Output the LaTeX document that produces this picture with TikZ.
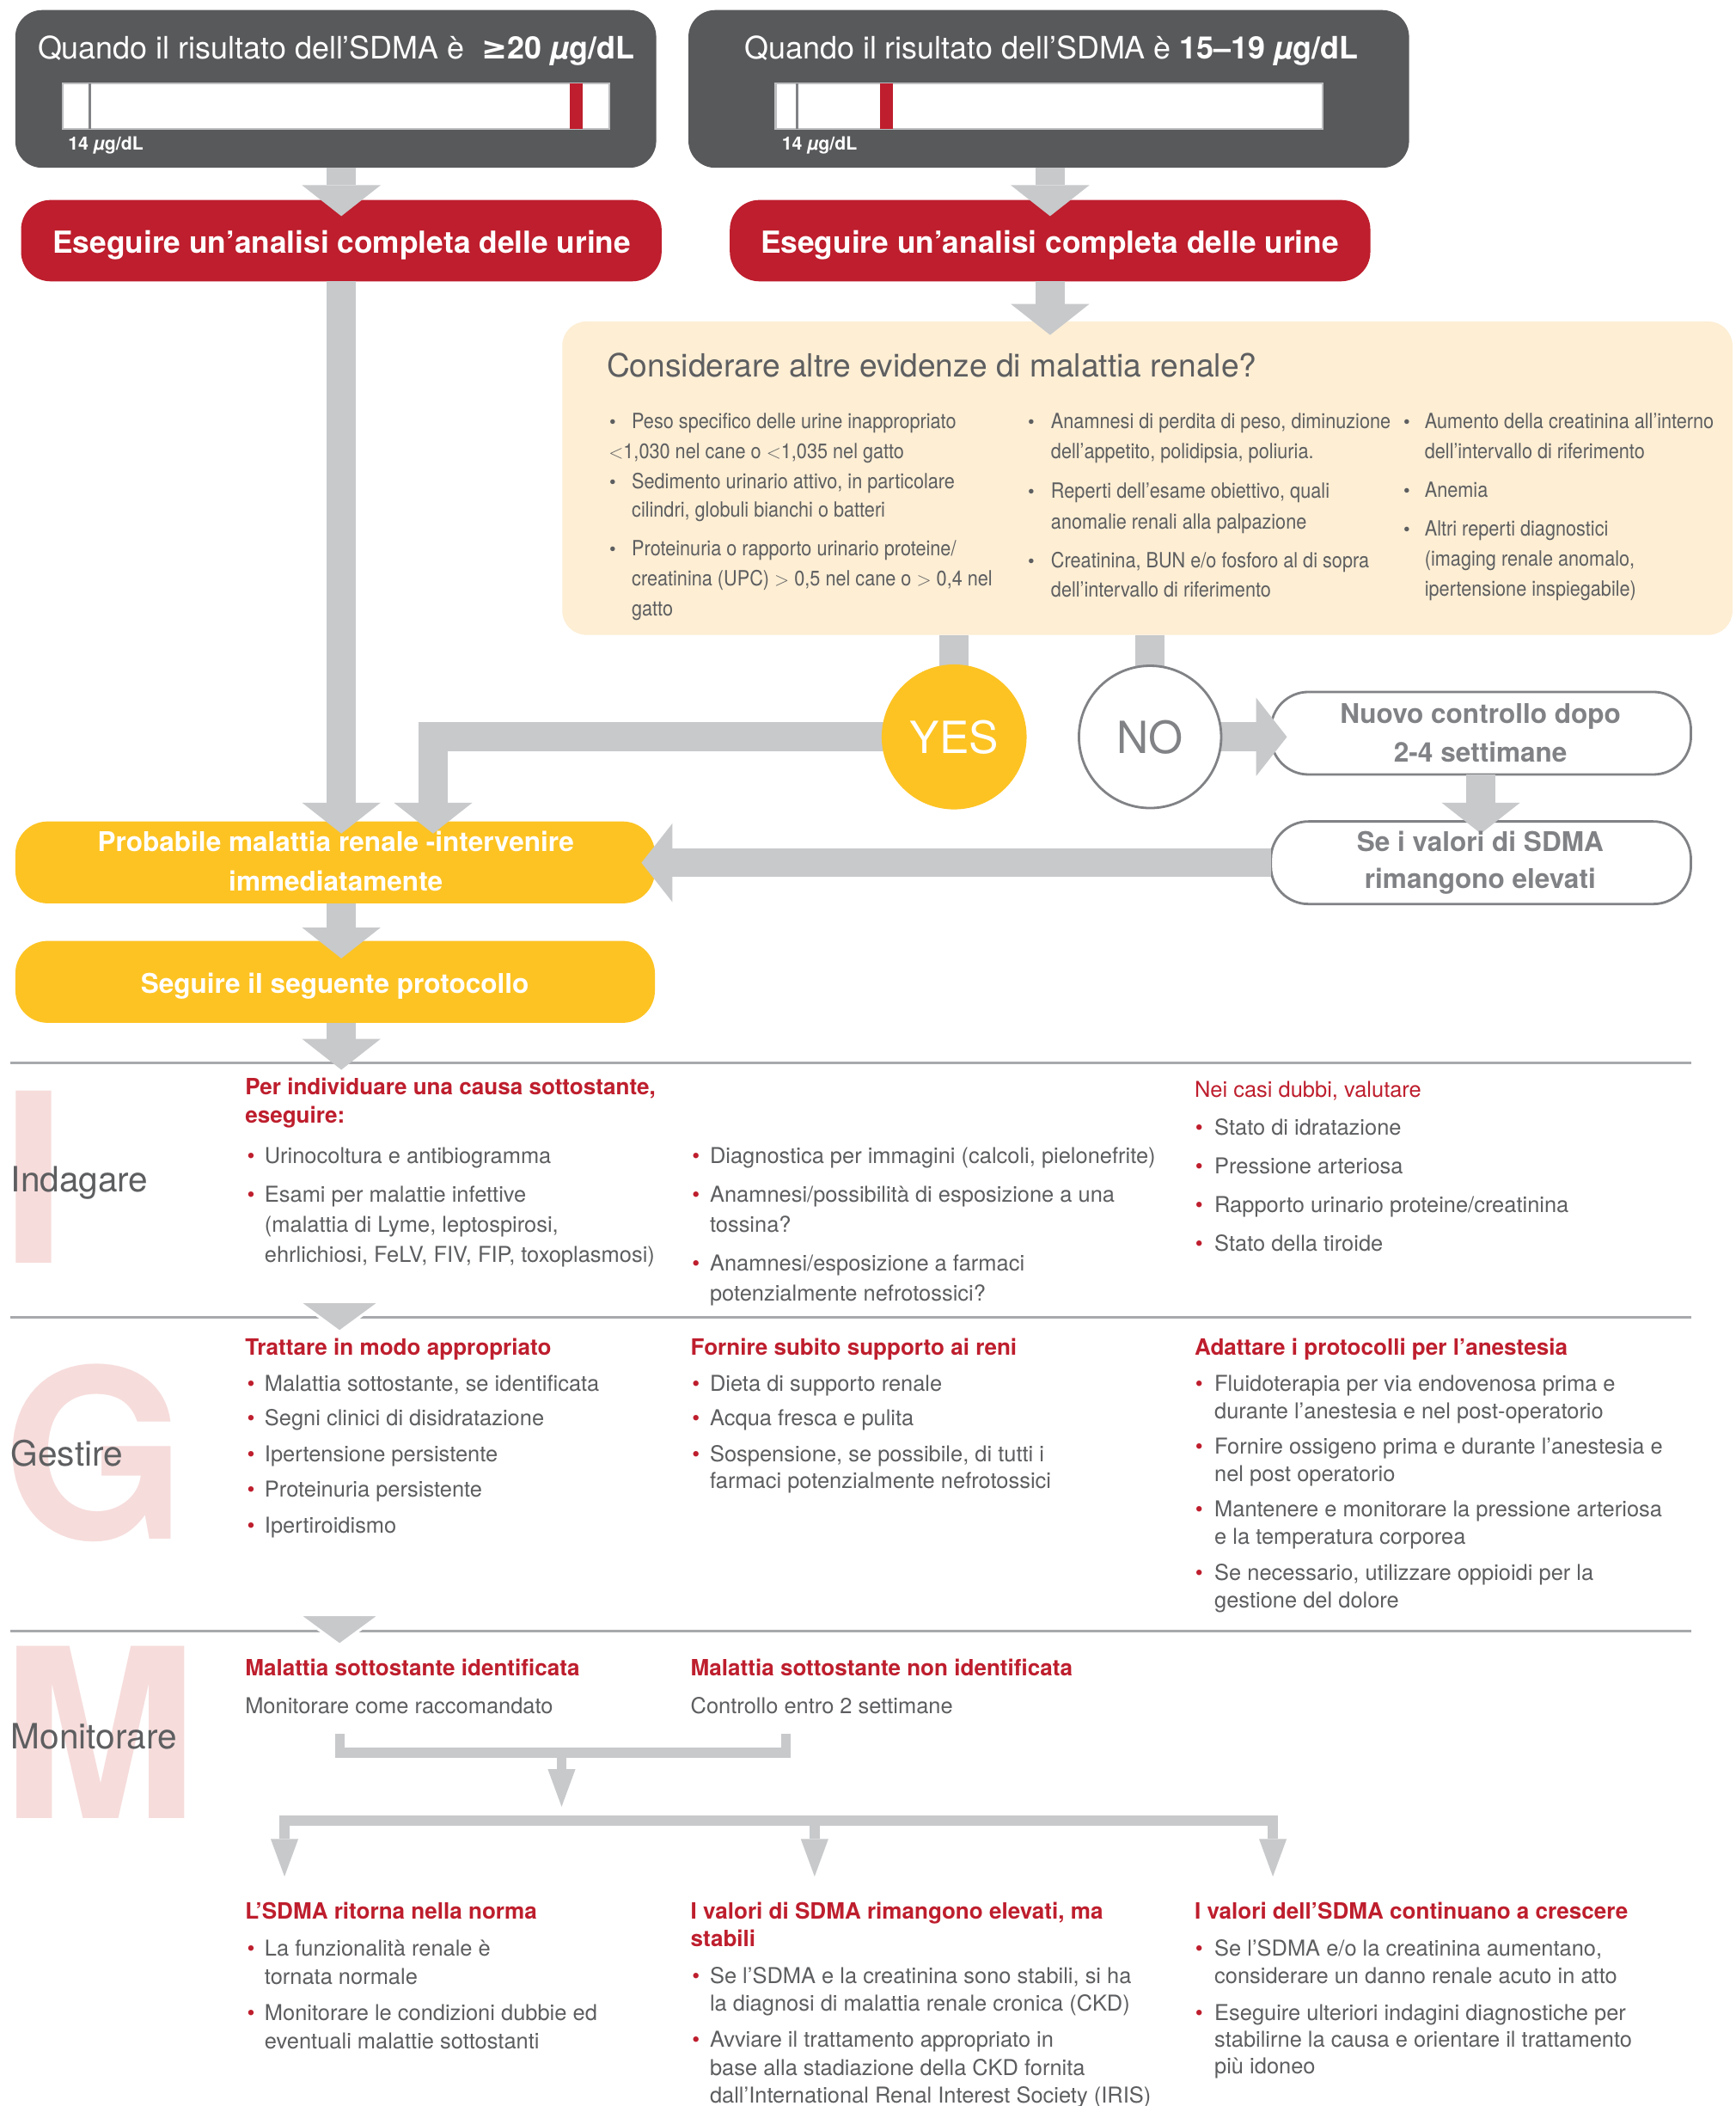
\documentclass[tikz,border=0pt]{standalone}
\usepackage{fontspec}
\setmainfont{TeX Gyre Heros}
\newfontfamily\djv{DejaVu Sans}
\newfontfamily\cnd{TeX Gyre Heros}[FakeStretch=0.89]
\usetikzlibrary{arrows.meta,calc}
\definecolor{dgray}{HTML}{58595B}
\definecolor{rred}{HTML}{BE1E2D}
\definecolor{yel}{HTML}{FDC323}
\definecolor{agray}{HTML}{C7C9CB}
\definecolor{beige}{HTML}{FDEED4}
\definecolor{tgray}{HTML}{5D5E60}
\definecolor{ogray}{HTML}{808285}
\definecolor{pinkl}{HTML}{F6DCDB}
\definecolor{lgray}{HTML}{A7A9AC}
\definecolor{barb}{HTML}{BCBEC0}
\newcommand\fsz[1]{\fontsize{#1}{#1}\selectfont}
\newcommand\mug{\textit{µ}g/dL}
\newcommand\Bline[5]{\node[bu] (#1b) at (#2,#4) {•}; \node[txt] (#1) at (#3,#4) {#5};}
\newcommand\Tline[4]{\node[txt] (#1) at (#2,#3) {#4};}
\newcommand\Kbul[5]{\node[bbu] (#1b) at (#2,#4) {•}; \node[btx] (#1) at (#3,#4) {#5};}
\newcommand\Ktxt[4]{\node[btx] (#1) at (#2,#3) {#4};}
\begin{document}
\begin{tikzpicture}[x=1pt,y=-1pt,
 bx/.style={inner sep=0pt, outer sep=0pt},
 darkbox/.style={bx, fill=dgray, rounded corners=20, minimum height=117.5},
 redbox/.style={bx, fill=rred, rounded corners=22, minimum width=477.3, minimum height=60.6},
 yelbox/.style={bx, fill=yel, rounded corners=24, minimum width=476.5, minimum height=61},
 wbox/.style={bx, fill=white, draw=ogray, line width=1.8, rounded corners=28, minimum width=313, minimum height=61.5},
 barbox/.style={bx, fill=white, draw=barb, line width=1.5, minimum height=34},
 markbox/.style={bx, fill=rred, minimum width=9.3, minimum height=34},
 tickline/.style={draw=ogray, line width=1.5},
 tt/.style={inner sep=0pt, anchor=base, text=white, font=\fsz{23}},
 l14/.style={inner sep=0pt, anchor=base west, text=white, font=\bfseries\fsz{13.6}},
 rt/.style={inner sep=0pt, anchor=base, text=white, font=\bfseries\fsz{22.6}},
 yt/.style={inner sep=0pt, anchor=base, text=white, font=\bfseries\fsz{20.2}},
 wt/.style={inner sep=0pt, anchor=base, text=ogray, font=\bfseries\fsz{20.2}},
 bti/.style={inner sep=0pt, anchor=base west, text=tgray, font=\fsz{23.8}},
 btx/.style={inner sep=0pt, anchor=base west, text=tgray, font=\cnd\fsz{15.6}},
 bbu/.style={inner sep=0pt, anchor=base, text=tgray, font=\fsz{14}},
 txt/.style={inner sep=0pt, anchor=base west, text=tgray, font=\fsz{16.3}},
 hd/.style={inner sep=0pt, anchor=base west, text=rred, font=\bfseries\fsz{16.7}},
 hdl/.style={inner sep=0pt, anchor=base west, text=rred, font=\fsz{16.3}},
 bu/.style={inner sep=0pt, anchor=base, text=rred, font=\fsz{16.3}},
 big/.style={inner sep=0pt, anchor=base west, text=pinkl, font=\bfseries\fsz{176}},
 seclab/.style={inner sep=0pt, anchor=base west, text=tgray, font=\fsz{26}},
 circ/.style={circle, inner sep=0pt, outer sep=0pt, minimum size=108},
 stem/.style={draw=agray, line width=21.5},
 fat/.style={draw=agray, line width=21.5, line join=miter, -{Triangle[width=58.5pt,length=23pt,line width=0pt]}},
 secline/.style={draw=lgray, line width=2},
 slim/.style={draw=agray, line width=7.5, line join=miter},
 slimarr/.style={slim, -{Triangle[width=20.6pt,length=28pt,line width=0pt]}},
 tri/.style={fill=agray, draw=white, line width=2}
]
\useasboundingbox[fill=white] (0,0) rectangle (1293,1569);

% ---------- top boxes ----------
\node[darkbox, minimum width=477.6] (top1) at (250.2,66.25) {};
\node[darkbox, minimum width=537] (top2) at (781.5,66.25) {};
\node[barbox, minimum width=407.3] (bar1) at (250.35,79) {};
\node[barbox, minimum width=407.6] (bar2) at (781.8,79) {};
\draw[tickline] ($(bar1.north west)+(20.3,0)$) -- ($(bar1.south west)+(20.3,0)$);
\draw[tickline] ($(bar2.north west)+(16,0)$) -- ($(bar2.south west)+(16,0)$);
\node[markbox] (mk1) at (429.35,79) {};
\node[markbox] (mk2) at (660.5,79) {};

\node[redbox] (red1) at (254.35,179.3) {};
\node[redbox] (red2) at (782.5,179.3) {};
\node[bx, fill=beige, rounded corners=18, minimum width=872, minimum height=233.5] (beige) at (855,356.25) {};
\node[wbox] (nuovo) at (1103.5,546.25) {};
\node[wbox] (sev) at (1103.5,642.75) {};
\node[yelbox] (prob) at (249.75,642.5) {};
\node[yelbox] (proto) at (249.75,731.5) {};

% ---------- section lines ----------
\coordinate (s1L) at (8,792); \coordinate (s1R) at (1260,792);
\coordinate (s2L) at (8,981.3); \coordinate (s2R) at (1260,981.3);
\coordinate (s3L) at (8,1215.1); \coordinate (s3R) at (1260,1215.1);
\draw[secline] (s1L) -- (s1R);
\draw[secline] (s2L) -- (s2R);
\draw[secline] (s3L) -- (s3R);

% big letters
\node[big] (bigI) at (0.5,941) {I};
\node[big] (bigG) at (2.3,1146.5) {G};
\node[big] (bigM) at (0.5,1355) {M};

% ---------- connectors ----------
\coordinate (yesc) at (711,549);
\coordinate (noc) at (857,549);
\draw[stem] (yesc |- beige.south) -- (yesc);
\draw[stem] (noc |- beige.south) -- (noc);
\draw[fat] (yesc) -| ($(prob.north)+(73,9)$);
\draw[fat] (noc) -- ($(noc -| nuovo.west)+(12,0)$);
\node[circ, fill=yel] (yes) at (yesc) {};
\node[circ, fill=white, draw=ogray, line width=1.8, minimum size=106] (no) at (noc) {};

\draw[fat] (red1.north |- top1.south) -- ($(red1.north)+(0,12)$);
\draw[fat] (red2.north |- top2.south) -- ($(red2.north)+(0,12)$);
\draw[fat] (red2.south) -- ($(red2.south |- beige.north)+(0,10)$);
\draw[fat] (red1.south) -- ($(red1.south |- prob.north)+(0,9)$);
\draw[fat] (red1.south |- prob.south) -- ($(red1.south |- proto.north)+(0,13)$);
\draw[fat] (red1.south |- proto.south) -- ($(red1.south |- s1L)+(0,5)$);
\draw[fat] (nuovo.south) -- ($(nuovo.south |- sev.north)+(0,9)$);
\draw[fat] (sev.west) -- ($(sev.west -| prob.east)+(-10,0)$);

\coordinate (tr1) at (253,969.8);
\coordinate (tr2) at (253,1203);
\draw[tri] ($(tr1)+(-30.5,0)$) -- ($(tr1)+(30.5,0)$) -- ($(tr1)+(0,22.4)$) -- cycle;
\draw[tri] ($(tr2)+(-30.5,0)$) -- ($(tr2)+(30.5,0)$) -- ($(tr2)+(0,22.4)$) -- cycle;

% monitor bracket
\coordinate (brL) at (253.2,1292);
\coordinate (brR) at (585.6,1292);
\coordinate (brM) at (418.5,1306);
\coordinate (brT) at (418.5,1346);
\coordinate (barM) at (607,1356.5);
\coordinate (tipA) at (212,1398);
\coordinate (tipB) at (607,1398);
\coordinate (tipC) at (948.5,1398);
\draw[slim] (brL) |- (brM) -| (brR);
\draw[slimarr] (brM) -- (brT);
\draw[slimarr] (barM) -| (tipA);
\draw[slimarr] (barM) -| (tipC);
\draw[slimarr] (barM) -- (tipB);

% ---------- texts ----------
\node[tt] (tit1) at (250.4,44) {Quando il risultato dell’SDMA è\hspace{6pt} \textbf{{\djv ≥}20 \mug}};
\node[tt] (tit2) at (783.5,44) {Quando il risultato dell’SDMA è \textbf{15–19 \mug}};
\node[l14] (v1) at (50.6,112) {14 \mug};
\node[l14] (v2) at (582.5,112) {14 \mug};
\node[rt] (rt1) at (254.7,188.3) {Eseguire un’analisi completa delle urine};
\node[rt] (rt2) at (782.3,188.3) {Eseguire un’analisi completa delle urine};

\node[bti] (bt) at (452,280.7) {Considerare altre evidenze di malattia renale?};
\Kbul{k1}{456.5}{470.6}{319}{Peso specifico delle urine inappropriato}
\Ktxt{k2}{453.4}{341.5}{$<$1,030 nel cane o $<$1,035 nel gatto}
\Kbul{k3}{456.5}{470.6}{364}{Sedimento urinario attivo, in particolare}
\Ktxt{k4}{470.6}{385.3}{cilindri, globuli bianchi o batteri}
\Kbul{k5}{456.5}{470.6}{414}{Proteinuria o rapporto urinario proteine/}
\Ktxt{k6}{470.6}{436.6}{creatinina (UPC) $>$ 0,5 nel cane o $>$ 0,4 nel}
\Ktxt{k7}{470.6}{459}{gatto}
\Kbul{k8}{768.4}{783}{319}{Anamnesi di perdita di peso, diminuzione}
\Ktxt{k9}{783}{341.5}{dell’appetito, polidipsia, poliuria.}
\Kbul{k10}{768.4}{783}{371.4}{Reperti dell’esame obiettivo, quali}
\Ktxt{k11}{783}{393.9}{anomalie renali alla palpazione}
\Kbul{k12}{768.4}{783}{422.7}{Creatinina, BUN e/o fosforo al di sopra}
\Ktxt{k13}{783}{445}{dell’intervallo di riferimento}
\Kbul{k14}{1048.3}{1061.5}{319}{Aumento della creatinina all’interno}
\Ktxt{k15}{1061.5}{341.5}{dell’intervallo di riferimento}
\Kbul{k16}{1048.3}{1061.5}{370.4}{Anemia}
\Kbul{k17}{1048.3}{1061.5}{399}{Altri reperti diagnostici}
\Ktxt{k18}{1061.5}{421.6}{(imaging renale anomalo,}
\Ktxt{k19}{1061.5}{444}{ipertensione inspiegabile)}

\node[inner sep=0pt, anchor=base, text=white, font=\fsz{33}] (yest) at (711,561.4) {YES};
\node[inner sep=0pt, anchor=base, text=ogray, font=\fsz{33}] (not) at (857,561.4) {NO};
\node[wt] (nt1) at (1103.2,539) {Nuovo controllo dopo};
\node[wt] (nt2) at (1103.2,568) {2-4 settimane};
\node[wt] (se1) at (1103,634) {Se i valori di SDMA};
\node[wt] (se2) at (1103,662) {rimangono elevati};
\node[yt] (pt1) at (250.2,634.5) {Probabile malattia renale -intervenire};
\node[yt] (pt2) at (250.2,663.5) {immediatamente};
\node[yt] (st) at (249.5,739.7) {Seguire il seguente protocollo};

% section labels
\node[seclab] (lab1) at (8,888) {Indagare};
\node[seclab] (lab2) at (8,1092) {Gestire};
\node[seclab] (lab3) at (8,1303) {Monitorare};

% Indagare
\node[hd] (ih1) at (182.5,815.4) {Per individuare una causa sottostante,};
\node[hd] (ih2) at (182.5,837) {eseguire:};
\Bline{ia1}{187}{197}{866.7}{Urinocoltura e antibiogramma}
\Bline{ia2}{187}{197}{895.5}{Esami per malattie infettive}
\Tline{ia3}{197}{918}{(malattia di Lyme, leptospirosi,}
\Tline{ia4}{197}{940.3}{ehrlichiosi, FeLV, FIV, FIP, toxoplasmosi)}
\Bline{ib1}{518.6}{528.8}{866.7}{Diagnostica per immagini (calcoli, pielonefrite)}
\Bline{ib2}{518.6}{528.8}{895.5}{Anamnesi/possibilità di esposizione a una}
\Tline{ib3}{528.8}{918}{tossina?}
\Bline{ib4}{518.6}{528.8}{946.7}{Anamnesi/esposizione a farmaci}
\Tline{ib5}{528.8}{969}{potenzialmente nefrotossici?}
\node[hdl] (ich) at (890,817.6) {Nei casi dubbi, valutare};
\Bline{ic1}{893.5}{904.8}{845.4}{Stato di idratazione}
\Bline{ic2}{893.5}{904.8}{874.2}{Pressione arteriosa}
\Bline{ic3}{893.5}{904.8}{903}{Rapporto urinario proteine/creatinina}
\Bline{ic4}{893.5}{904.8}{931.8}{Stato della tiroide}

% Gestire
\node[hd] (gah) at (182.5,1009.7) {Trattare in modo appropriato};
\Bline{ga1}{187}{197}{1036.4}{Malattia sottostante, se identificata}
\Bline{ga2}{187}{197}{1062}{Segni clinici di disidratazione}
\Bline{ga3}{187}{197}{1088.7}{Ipertensione persistente}
\Bline{ga4}{187}{197}{1115.4}{Proteinuria persistente}
\Bline{ga5}{187}{197}{1142}{Ipertiroidismo}
\node[hd] (gbh) at (514.5,1009.7) {Fornire subito supporto ai reni};
\Bline{gb1}{518.6}{528.8}{1036.4}{Dieta di supporto renale}
\Bline{gb2}{518.6}{528.8}{1062}{Acqua fresca e pulita}
\Bline{gb3}{518.6}{528.8}{1088.7}{Sospensione, se possibile, di tutti i}
\Tline{gb4}{528.8}{1109}{farmaci potenzialmente nefrotossici}
\node[hd] (gch) at (890,1009.7) {Adattare i protocolli per l’anestesia};
\Bline{gc1}{893.5}{904.8}{1036.4}{Fluidoterapia per via endovenosa prima e}
\Tline{gc2}{904.8}{1056.7}{durante l’anestesia e nel post-operatorio}
\Bline{gc3}{893.5}{904.8}{1083.4}{Fornire ossigeno prima e durante l’anestesia e}
\Tline{gc4}{904.8}{1103.6}{nel post operatorio}
\Bline{gc5}{893.5}{904.8}{1130.3}{Mantenere e monitorare la pressione arteriosa}
\Tline{gc6}{904.8}{1150.6}{e la temperatura corporea}
\Bline{gc7}{893.5}{904.8}{1177.3}{Se necessario, utilizzare oppioidi per la}
\Tline{gc8}{904.8}{1197.6}{gestione del dolore}

% Monitorare
\node[hd] (mah) at (182.5,1248.7) {Malattia sottostante identificata};
\Tline{ma1}{182.5}{1276.6}{Monitorare come raccomandato}
\node[hd] (mbh) at (514.5,1248.7) {Malattia sottostante non identificata};
\Tline{mb1}{514.5}{1276.6}{Controllo entro 2 settimane}
\node[hd] (oah) at (182.5,1429.8) {L’SDMA ritorna nella norma};
\Bline{oa1}{187}{197}{1457.3}{La funzionalità renale è}
\Tline{oa2}{197}{1478.6}{tornata normale}
\Bline{oa3}{187}{197}{1505.4}{Monitorare le condizioni dubbie ed}
\Tline{oa4}{197}{1526.4}{eventuali malattie sottostanti}
\node[hd] (obh) at (514.5,1429.8) {I valori di SDMA rimangono elevati, ma};
\node[hd] (obh2) at (514.5,1450) {stabili};
\Bline{ob1}{518.6}{528.8}{1477.5}{Se l’SDMA e la creatinina sono stabili, si ha}
\Tline{ob2}{528.8}{1498.5}{la diagnosi di malattia renale cronica (CKD)}
\Bline{ob3}{518.6}{528.8}{1525.2}{Avviare il trattamento appropriato in}
\Tline{ob4}{528.8}{1546.2}{base alla stadiazione della CKD fornita}
\Tline{ob5}{528.8}{1567}{dall’International Renal Interest Society (IRIS)}
\node[hd] (och) at (890,1429.8) {I valori dell’SDMA continuano a crescere};
\Bline{oc1}{893.5}{904.8}{1457.5}{Se l’SDMA e/o la creatinina aumentano,}
\Tline{oc2}{904.8}{1477.5}{considerare un danno renale acuto in atto}
\Bline{oc3}{893.5}{904.8}{1505.4}{Eseguire ulteriori indagini diagnostiche per}
\Tline{oc4}{904.8}{1525.2}{stabilirne la causa e orientare il trattamento}
\Tline{oc5}{904.8}{1545}{più idoneo}
\end{tikzpicture}
\end{document}
